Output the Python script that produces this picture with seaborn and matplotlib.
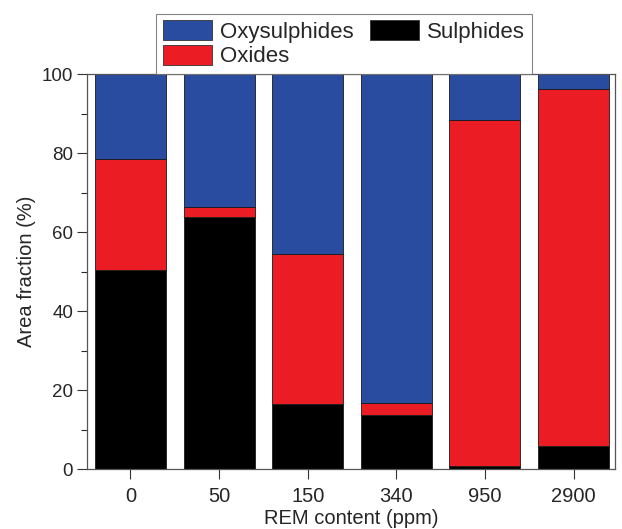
import numpy as np
import pandas as pd
import matplotlib
matplotlib.use("Agg")
import matplotlib.pyplot as plt
import seaborn as sns
from matplotlib.patches import Patch
from matplotlib.ticker import MultipleLocator

rem_content = ["0", "50", "150", "340", "950", "2900"]
sulphides = [50.3, 63.9, 16.4, 13.7, 0.8, 5.7]
oxides = [28.3, 2.5, 38.0, 3.1, 87.6, 90.4]
oxysulphides = [21.4, 33.6, 45.6, 83.2, 11.6, 3.9]

blue = "#2a4ca0"
red = "#ec1c24"
black = "#000000"

df = pd.DataFrame({"rem": rem_content, "sulph": sulphides,
                   "ox": oxides, "oxys": oxysulphides})
df["ox_base"] = df["sulph"]
df["oxys_base"] = df["sulph"] + df["ox"]

sns.set_style("ticks")
plt.rcParams["font.family"] = ["Liberation Sans", "DejaVu Sans"]

fig, ax = plt.subplots(figsize=(6.22, 5.29), dpi=100)
fig.subplots_adjust(left=0.140, right=0.989, bottom=0.1134, top=0.860)

common = dict(x="rem", order=rem_content, ax=ax, width=0.8,
              edgecolor="#1a1a1a", linewidth=0.6, saturation=1)
sns.barplot(data=df, y="sulph", color=black, **common)
sns.barplot(data=df, y="ox", bottom=df["ox_base"], color=red, **common)
sns.barplot(data=df, y="oxys", bottom=df["oxys_base"], color=blue, **common)

ax.set_xlim(-0.49, 5.47)
ax.set_ylim(0, 100)
ax.yaxis.set_major_locator(MultipleLocator(20))
ax.yaxis.set_minor_locator(MultipleLocator(10))
ax.tick_params(axis="both", direction="out", color="#333333")
ax.tick_params(axis="x", labelsize=14.5, length=7, width=0.8, pad=6)
ax.tick_params(axis="y", which="major", labelsize=13.5, length=7, width=0.8, pad=3)
ax.tick_params(axis="y", which="minor", length=4, width=0.8)
for s in ax.spines.values():
    s.set_visible(True)
    s.set_color("#555555")
    s.set_linewidth(0.9)

ax.set_xlabel("REM content (ppm)", fontsize=14.5, labelpad=2)
ax.set_ylabel("Area fraction (%)", fontsize=14.5, labelpad=4)

handles = [Patch(facecolor=blue, edgecolor="#333333", linewidth=0.6),
           Patch(facecolor=red, edgecolor="#333333", linewidth=0.6),
           Patch(facecolor=black, edgecolor="#333333", linewidth=0.6)]
labels = ["Oxysulphides", "Oxides", "Sulphides"]
leg = fig.legend(handles, labels, ncol=2, loc="lower left",
                 bbox_to_anchor=(156 / 622, 1 - 74 / 529),
                 fontsize=16, frameon=True, fancybox=False,
                 handlelength=2.2, handleheight=1.0, handletextpad=0.4,
                 columnspacing=0.7, labelspacing=0.08, borderpad=0.3,
                 borderaxespad=0)
leg.get_frame().set_edgecolor("#666666")
leg.get_frame().set_linewidth(0.8)

fig.savefig("out.png", dpi=100)
